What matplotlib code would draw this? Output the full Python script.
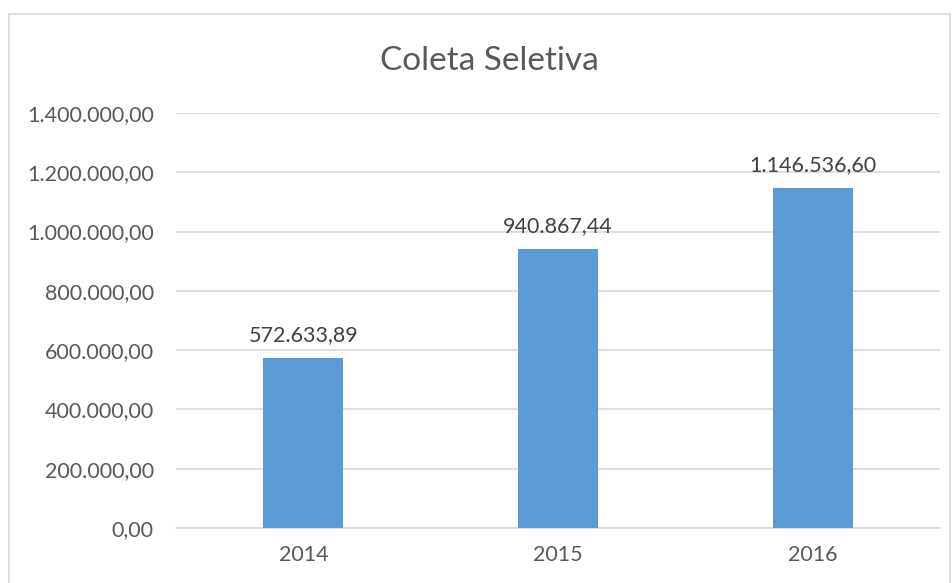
import matplotlib.pyplot as plt
from matplotlib.patches import Rectangle

# dados da coleta seletiva
anos = ['2014', '2015', '2016']
valores = [572633.89, 940867.44, 1146536.60]
yticks = [0, 200000, 400000, 600000, 800000, 1000000, 1200000, 1400000]


def fmt_br(v):
    s = f"{v:,.2f}"
    return s.replace(",", "X").replace(".", ",").replace("X", ".")


plt.rcParams['font.family'] = ['Lato', 'DejaVu Sans']
txt = '#595959'
grid = '#d9d9d9'

fig = plt.figure(figsize=(9.53, 5.83), dpi=100)
ax = fig.add_axes([176/953, 1 - 528/583, (940 - 176)/953, (528 - 113)/583])

x = range(len(anos))
bars = ax.bar(x, valores, width=0.315, color='#5b9bd5', zorder=3)

for b, v in zip(bars, valores):
    ax.annotate(fmt_br(v), (b.get_x() + b.get_width()/2, v),
                xytext=(0, 9.5), textcoords='offset points',
                ha='center', va='bottom', fontsize=15.5, color='#404040')

ax.set_xlim(-0.5, 2.5)
ax.set_ylim(0, 1400000)
ax.set_xticks(list(x))
ax.set_xticklabels(anos)
ax.set_yticks(yticks)
ax.set_yticklabels([fmt_br(v) for v in yticks])
ax.tick_params(axis='y', length=0, pad=16, labelsize=15.5, labelcolor=txt)
ax.tick_params(axis='x', length=0, pad=12, labelsize=15.5, labelcolor=txt)
ax.grid(axis='y', color=grid, linewidth=1.2, zorder=0)
for s in ['left', 'right', 'top']:
    ax.spines[s].set_visible(False)
ax.spines['bottom'].set_color(grid)
ax.spines['bottom'].set_linewidth(1.2)

fig.text(489/953, 1 - 61/583, 'Coleta Seletiva', ha='center', va='center',
         fontsize=24, color=txt)

# moldura do gráfico
fig.patches.append(Rectangle((9/953, -0.05), (950 - 9)/953, 1.05 - 14/583,
                             transform=fig.transFigure, fill=False,
                             edgecolor=grid, linewidth=1.2))

fig.savefig('out.png', dpi=100)
